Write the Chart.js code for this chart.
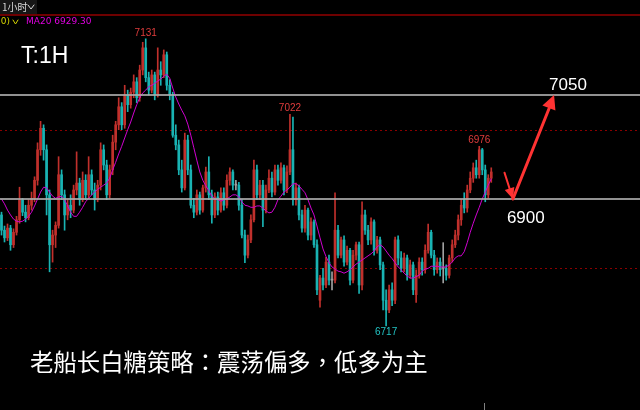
<!DOCTYPE html>
<html>
<head>
<meta charset="utf-8">
<script src="https://cdn.jsdelivr.net/npm/chart.js@4.4.0/dist/chart.umd.min.js"></script>
<style>
  html, body { margin: 0; padding: 0; background: #000; }
  #wrap { width: 640px; height: 410px; }
</style>
</head>
<body>
<div id="wrap"><canvas id="kline" width="640" height="410"></canvas></div>
<script>
// 1H candles, sugar futures
const opens = [
  6877, 6855, 6844, 6858, 6834, 6852, 6870, 6899, 6881, 6873,
  6891, 6901, 6927, 6971, 7002, 6971, 6906, 6834, 6848, 6862,
  6935, 6906, 6877, 6891, 6884, 6913, 6923, 6899, 6927, 6906,
  6935, 6913, 6899, 6920, 6971, 6949, 6906, 6942, 6982, 7007,
  7033, 7007, 7050, 7036, 7054, 7069, 7046, 7086, 7118, 7075,
  7057, 7079, 7050, 7086, 7079, 7108, 7064, 7050, 6992, 6978,
  6942, 6916, 6985, 6942, 6891, 6881, 6906, 6884, 6916, 6939,
  6906, 6877, 6903, 6884, 6909, 6891, 6927, 6939, 6920, 6920,
  6891, 6848, 6819, 6841, 6870, 6942, 6906, 6920, 6884, 6913,
  6930, 6910, 6942, 6927, 6945, 6913, 6939, 6971, 6899, 6916,
  6877, 6858, 6884, 6848, 6867, 6834, 6754, 6786, 6776, 6809,
  6783, 6783, 6855, 6819, 6841, 6809, 6826, 6783, 6819, 6834,
  6776, 6877, 6855, 6841, 6867, 6826, 6841, 6805, 6754, 6740,
  6769, 6754, 6841, 6815, 6800, 6815, 6790, 6805, 6762, 6790,
  6809, 6798, 6826, 6852, 6819, 6798, 6809, 6800, 6800, 6790,
  6815, 6834, 6848, 6870, 6899, 6887, 6913, 6930, 6945, 6935,
  6971, 6942, 6906, 6930
];
const highs = [
  6881, 6861, 6864, 6862, 6857, 6875, 6917, 6901, 6891, 6899,
  6910, 6932, 6981, 7012, 7007, 6978, 6913, 6855, 6867, 6961,
  6942, 6913, 6899, 6906, 6920, 6968, 6930, 6939, 6935, 6961,
  6942, 6923, 6927, 6981, 6978, 6956, 6949, 6992, 7012, 7046,
  7039, 7064, 7057, 7060, 7079, 7075, 7093, 7126, 7131, 7083,
  7086, 7083, 7118, 7098, 7115, 7112, 7072, 7054, 7007, 6985,
  6956, 6995, 6992, 6949, 6901, 6913, 6910, 6920, 6946, 6961,
  6913, 6909, 6910, 6916, 6916, 6935, 6945, 6942, 6927, 6924,
  6899, 6855, 6848, 6877, 6956, 6949, 6927, 6927, 6920, 6942,
  6939, 6949, 6949, 6952, 6949, 6948, 7022, 7018, 6923, 6920,
  6884, 6891, 6887, 6873, 6870, 6841, 6790, 6800, 6816, 6819,
  6795, 6909, 6862, 6845, 6847, 6832, 6829, 6826, 6838, 6838,
  6896, 6884, 6862, 6873, 6870, 6846, 6845, 6809, 6769, 6776,
  6779, 6845, 6847, 6824, 6822, 6819, 6812, 6809, 6798, 6815,
  6815, 6834, 6864, 6855, 6826, 6815, 6815, 6837, 6805, 6819,
  6841, 6855, 6877, 6899, 6909, 6920, 6939, 6952, 6956, 6976,
  6973, 6949, 6935, 6945
];
const lows = [
  6848, 6838, 6840, 6826, 6830, 6848, 6865, 6876, 6867, 6870,
  6884, 6896, 6920, 6963, 6956, 6877, 6795, 6809, 6830, 6858,
  6899, 6855, 6870, 6873, 6880, 6906, 6891, 6896, 6899, 6901,
  6906, 6884, 6896, 6913, 6942, 6899, 6901, 6935, 6971, 7000,
  7000, 7002, 7026, 7031, 7046, 7039, 7041, 7079, 7069, 7050,
  7053, 7043, 7047, 7064, 7075, 7057, 7043, 6989, 6971, 6935,
  6910, 6913, 6935, 6887, 6873, 6877, 6878, 6881, 6910, 6899,
  6865, 6873, 6877, 6881, 6884, 6887, 6920, 6913, 6913, 6884,
  6844, 6808, 6815, 6837, 6867, 6899, 6899, 6860, 6880, 6909,
  6903, 6906, 6920, 6923, 6906, 6909, 6935, 6891, 6891, 6870,
  6852, 6852, 6841, 6841, 6830, 6762, 6744, 6769, 6772, 6776,
  6769, 6779, 6815, 6815, 6803, 6805, 6776, 6779, 6812, 6764,
  6769, 6849, 6834, 6835, 6819, 6822, 6798, 6740, 6717, 6736,
  6746, 6749, 6805, 6795, 6795, 6783, 6786, 6762, 6751, 6786,
  6790, 6793, 6822, 6815, 6790, 6793, 6789, 6779, 6783, 6786,
  6809, 6830, 6841, 6862, 6880, 6881, 6909, 6924, 6930, 6930,
  6935, 6896, 6901, 6924
];
const closes = [
  6855, 6844, 6858, 6834, 6852, 6870, 6899, 6881, 6873, 6891,
  6901, 6927, 6971, 7002, 6971, 6906, 6834, 6848, 6862, 6935,
  6906, 6877, 6891, 6884, 6913, 6923, 6899, 6927, 6906, 6935,
  6913, 6899, 6920, 6971, 6949, 6906, 6942, 6982, 7007, 7033,
  7007, 7050, 7036, 7054, 7069, 7046, 7086, 7118, 7075, 7057,
  7079, 7050, 7086, 7079, 7108, 7064, 7050, 6992, 6978, 6942,
  6916, 6985, 6942, 6891, 6881, 6906, 6884, 6916, 6939, 6906,
  6877, 6903, 6884, 6909, 6891, 6927, 6939, 6920, 6920, 6891,
  6848, 6819, 6841, 6870, 6942, 6906, 6920, 6884, 6913, 6930,
  6910, 6942, 6927, 6945, 6913, 6939, 6971, 6899, 6916, 6877,
  6858, 6884, 6848, 6867, 6834, 6769, 6786, 6776, 6809, 6783,
  6783, 6855, 6819, 6841, 6809, 6826, 6783, 6819, 6834, 6776,
  6877, 6855, 6841, 6867, 6826, 6841, 6805, 6754, 6740, 6769,
  6754, 6841, 6815, 6800, 6815, 6790, 6805, 6769, 6790, 6809,
  6798, 6826, 6852, 6819, 6798, 6809, 6798, 6800, 6790, 6815,
  6834, 6848, 6870, 6891, 6887, 6913, 6930, 6945, 6935, 6971,
  6942, 6906, 6930, 6939
];
const ma20 = [
  6900, 6893, 6884, 6877, 6871, 6868, 6867, 6868, 6871, 6875,
  6881, 6890, 6900, 6910, 6917, 6916, 6910, 6904, 6901, 6903,
  6904, 6899, 6890, 6881, 6875, 6875, 6881, 6888, 6896, 6901,
  6906, 6910, 6914, 6917, 6920, 6923, 6930, 6942, 6953, 6965,
  6976, 6988, 7000, 7011, 7024, 7036, 7046, 7053, 7057, 7062,
  7064, 7067, 7070, 7073, 7077, 7080, 7074, 7060, 7047, 7037,
  7028, 7020, 7008, 6992, 6974, 6956, 6939, 6927, 6919, 6912,
  6904, 6900, 6899, 6897, 6899, 6900, 6903, 6906, 6906, 6903,
  6896, 6891, 6890, 6888, 6888, 6890, 6890, 6887, 6883, 6880,
  6881, 6888, 6899, 6904, 6910, 6913, 6917, 6922, 6922, 6919,
  6914, 6909, 6899, 6887, 6877, 6861, 6844, 6828, 6817, 6808,
  6802, 6799, 6796, 6795, 6793, 6795, 6798, 6802, 6806, 6809,
  6812, 6815, 6818, 6821, 6825, 6831, 6834, 6831, 6825, 6819,
  6814, 6808, 6802, 6798, 6793, 6789, 6786, 6786, 6788, 6790,
  6796, 6799, 6800, 6803, 6803, 6803, 6802, 6802, 6802, 6805,
  6809, 6815, 6818, 6818, 6824, 6837, 6852, 6865, 6877, 6888,
  6900, 6910, 6920, 6929.30
];

// 213 hourly slots across the window, only the first ones are traded so far
const slots = Array.from({ length: 213 }, (_, i) => i);

const solidLevels = [7050, 6900];
const dashedLevels = [7000, 6800];
const peakIdx = [48, 96, 159];
const troughIdx = [128];
// forecast path: [slot, price]
const arrowPath = [[167.4, 6938], [170.2, 6900], [183.9, 7050]];
const targets = [7050, 6900];

const UP = '#c0302c', DOWN = '#19b3b3', FLAT = '#a0a0a0';
const candleColors = closes.map((c, i) => c > opens[i] ? UP : (c < opens[i] ? DOWN : FLAT));

function arrowHead(ctx, fx, fy, tx, ty, len, half) {
    const a = Math.atan2(ty - fy, tx - fx);
    ctx.beginPath();
    ctx.moveTo(tx, ty);
    ctx.lineTo(tx - len * Math.cos(a) + half * Math.sin(a), ty - len * Math.sin(a) - half * Math.cos(a));
    ctx.lineTo(tx - len * Math.cos(a) - half * Math.sin(a), ty - len * Math.sin(a) + half * Math.cos(a));
    ctx.closePath();
    ctx.fill();
}

const overlay = {
    id: 'overlay',
    beforeDraw(chart) {
        const ctx = chart.ctx;
        ctx.save();
        ctx.fillStyle = '#000';
        ctx.fillRect(0, 0, chart.width, chart.height);
        ctx.restore();
    },
    beforeDatasetsDraw(chart) {
        const { ctx, chartArea, scales: { y } } = chart;
        ctx.save();
        ctx.strokeStyle = '#8a0000';
        ctx.lineWidth = 1;
        ctx.setLineDash([2, 3]);
        dashedLevels.forEach(v => {
            const py = Math.round(y.getPixelForValue(v)) + 0.5;
            ctx.beginPath();
            ctx.moveTo(chartArea.left, py);
            ctx.lineTo(chartArea.right, py);
            ctx.stroke();
        });
        ctx.restore();
    },
    afterDatasetsDraw(chart) {
        const { ctx, chartArea, scales: { x, y } } = chart;
        ctx.save();

        // support / resistance
        ctx.strokeStyle = 'rgba(170,170,170,0.85)';
        ctx.lineWidth = 2;
        solidLevels.forEach(v => {
            const py = Math.round(y.getPixelForValue(v));
            ctx.beginPath();
            ctx.moveTo(chartArea.left, py);
            ctx.lineTo(chartArea.right, py);
            ctx.stroke();
        });

        // high / low marks
        ctx.font = '10px "Liberation Sans", Arial, sans-serif';
        ctx.textAlign = 'center';
        ctx.fillStyle = '#e03c3c';
        ctx.textBaseline = 'bottom';
        peakIdx.forEach(i => {
            ctx.fillText(String(highs[i]), x.getPixelForValue(i), y.getPixelForValue(highs[i]) - 1);
        });
        ctx.fillStyle = '#22c4c4';
        ctx.textBaseline = 'top';
        troughIdx.forEach(i => {
            ctx.fillText(String(lows[i]), x.getPixelForValue(i), y.getPixelForValue(lows[i]) + 1);
        });

        // forecast arrows
        const pts = arrowPath.map(p => [x.getPixelForValue(p[0]), y.getPixelForValue(p[1])]);
        ctx.strokeStyle = '#ff3333';
        ctx.fillStyle = '#ff3333';
        ctx.lineCap = 'round';
        ctx.lineWidth = 2;
        ctx.beginPath();
        ctx.moveTo(pts[0][0], pts[0][1]);
        ctx.lineTo(pts[1][0], pts[1][1]);
        ctx.stroke();
        arrowHead(ctx, pts[0][0], pts[0][1], pts[1][0], pts[1][1], 11, 5);
        ctx.lineWidth = 3;
        ctx.beginPath();
        ctx.moveTo(pts[1][0], pts[1][1]);
        ctx.lineTo(pts[2][0] - 2, pts[2][1] + 6);
        ctx.stroke();
        arrowHead(ctx, pts[1][0], pts[1][1], pts[2][0], pts[2][1], 14, 7);

        // target prices
        ctx.fillStyle = '#ffffff';
        ctx.font = '17px "Liberation Sans", Arial, sans-serif';
        ctx.textAlign = 'left';
        ctx.textBaseline = 'alphabetic';
        ctx.fillText(String(targets[0]), pts[2][0] - 5, y.getPixelForValue(targets[0]) - 5);
        ctx.fillText(String(targets[1]), pts[1][0] - 6, y.getPixelForValue(targets[1]) + 24);

        // period tag
        ctx.font = '23px "Liberation Sans", Arial, sans-serif';
        ctx.fillText('T:1H', 21, 63);

        // caption
        ctx.font = '23.4px "Noto Sans CJK TC", "Noto Sans CJK SC", sans-serif';
        ctx.textBaseline = 'middle';
        ctx.fillText('老船长白糖策略：震荡偏多，低多为主', 30, 362);

        // header strip
        ctx.fillStyle = '#161616';
        ctx.fillRect(0, 0, 37, 14);
        ctx.fillStyle = '#6e0000';
        ctx.fillRect(0, 14, chart.width, 2);
        ctx.fillStyle = '#d8d8d8';
        ctx.font = '10px "Noto Sans CJK SC", sans-serif';
        ctx.textBaseline = 'middle';
        ctx.fillText('1小时', 2, 7);
        ctx.strokeStyle = '#d8d8d8';
        ctx.lineWidth = 1;
        ctx.beginPath();
        ctx.moveTo(28, 5); ctx.lineTo(31, 9); ctx.lineTo(34, 5);
        ctx.stroke();

        ctx.font = '9px "DejaVu Sans", sans-serif';
        ctx.fillStyle = '#d4d400';
        ctx.fillText('.0)', -2, 22);
        ctx.strokeStyle = '#d4d400';
        ctx.beginPath();
        ctx.moveTo(13, 20); ctx.lineTo(15.5, 24); ctx.lineTo(18, 20);
        ctx.stroke();
        ctx.fillStyle = '#e000e0';
        ctx.fillText('MA20 ' + ma20[ma20.length - 1].toFixed(2), 26, 22);

        // time cursor tick
        ctx.fillStyle = '#808080';
        ctx.fillRect(484, 403, 1, 7);
        ctx.restore();
    }
};

new Chart(document.getElementById('kline'), {
    type: 'bar',
    data: {
        labels: slots,
        datasets: [{
            type: 'line',
            label: 'MA20',
            data: ma20,
            borderColor: '#d000d0',
            borderWidth: 1,
            pointRadius: 0,
            tension: 0,
            order: 0
        }, {
            label: 'body',
            data: closes.map((c, i) => [opens[i], c]),
            backgroundColor: candleColors,
            barThickness: 2,
            minBarLength: 1,
            grouped: false,
            order: 1
        }, {
            label: 'wick',
            data: lows.map((l, i) => [l, highs[i]]),
            backgroundColor: candleColors,
            barThickness: 1,
            grouped: false,
            order: 2
        }]
    },
    options: {
        responsive: false,
        animation: false,
        events: [],
        layout: { padding: 0 },
        plugins: {
            legend: { display: false },
            tooltip: { enabled: false }
        },
        scales: {
            x: { display: false, offset: true },
            y: { display: false, min: 6595.7, max: 7187 }
        }
    },
    plugins: [overlay]
});
</script>
</body>
</html>
